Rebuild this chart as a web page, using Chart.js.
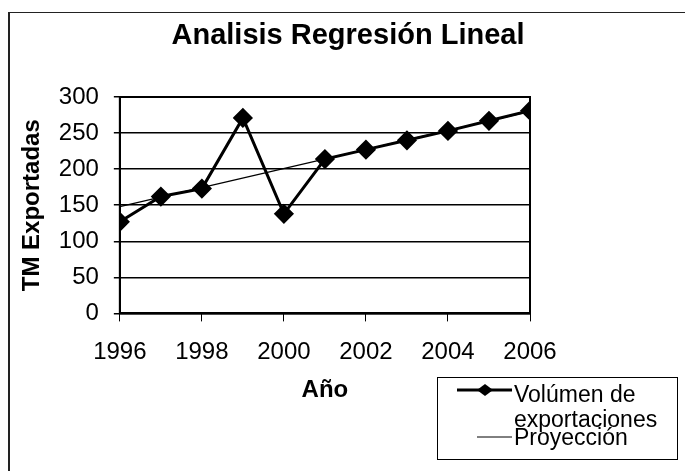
<!doctype html>
<html lang="es">
<head>
    <meta charset="utf-8">
    <title>Analisis Regresión Lineal</title>
    <style>
        * {
            margin: 0;
            padding: 0;
        }

        body {
            background: #fff;
        }
    </style>
</head>
<body>
<canvas id="myChart" width="685" height="471" style="width:685px;height:471px;"></canvas>
<script src="https://cdn.jsdelivr.net/npm/chart.js"></script>
<script>
    // data
    const years = [1996, 1997, 1998, 1999, 2000, 2001, 2002, 2003, 2004, 2005, 2006];
    const volumen = [127, 162, 173, 271, 138, 214, 227, 240, 253, 267, 281];
    const proyeccionYears = [1996, 2006];
    const proyeccion = [148, 280];
    const chartTitle = 'Analisis Regresión Lineal';
    const legendText = [['Volúmen de', 'exportaciones'], ['Proyección']];

    const fontName = '"Liberation Sans", Arial, sans-serif';

    // outer frame of the chart object, title, box round the plot
    const frame = {
        id: 'frame',
        beforeDraw(chart) {
            const {ctx} = chart;
            ctx.save();
            ctx.fillStyle = '#fff';
            ctx.fillRect(0, 0, chart.width, chart.height);
            ctx.strokeStyle = '#222';
            ctx.lineWidth = 1;
            ctx.beginPath();
            ctx.moveTo(9, 12.5);
            ctx.lineTo(chart.width, 12.5);
            ctx.stroke();
            ctx.lineWidth = 2;
            ctx.beginPath();
            ctx.moveTo(9, 12);
            ctx.lineTo(9, chart.height);
            ctx.stroke();

            // title is centred on the whole object, not on the plot
            ctx.fillStyle = '#000';
            ctx.font = 'bold 29px ' + fontName;
            ctx.textAlign = 'center';
            ctx.textBaseline = 'alphabetic';
            ctx.fillText(chartTitle, 348, 44);
            ctx.restore();
        },
        beforeDatasetsDraw(chart) {
            const {ctx, chartArea: {top, bottom, left, right}} = chart;
            ctx.save();
            ctx.strokeStyle = '#000';
            ctx.lineWidth = 2;
            ctx.strokeRect(left, top, right - left, bottom - top);
            ctx.restore();
        }
    };

    // legend drawn by hand, box at the lower right
    const boxLegend = {
        id: 'boxLegend',
        afterDraw(chart) {
            const {ctx} = chart;
            ctx.save();
            ctx.strokeStyle = '#000';
            ctx.lineWidth = 1;
            ctx.strokeRect(437.5, 377.5, 240, 82);
            ctx.font = '23px ' + fontName;
            ctx.fillStyle = '#000';
            ctx.textBaseline = 'alphabetic';

            // item 1
            let y = 390;
            ctx.lineWidth = 3;
            ctx.beginPath();
            ctx.moveTo(457, y);
            ctx.lineTo(512, y);
            ctx.stroke();
            ctx.beginPath();
            ctx.moveTo(485, y - 6);
            ctx.lineTo(493, y);
            ctx.lineTo(485, y + 6);
            ctx.lineTo(477, y);
            ctx.closePath();
            ctx.fill();
            ctx.fillText(legendText[0][0], 514, 402);
            ctx.fillText(legendText[0][1], 514, 427);

            // item 2
            y = 437;
            ctx.lineWidth = 1;
            ctx.beginPath();
            ctx.moveTo(477, y);
            ctx.lineTo(512, y);
            ctx.stroke();
            ctx.fillText(legendText[1][0], 514, 445);
            ctx.restore();
        }
    };

    const data = {
        datasets: [{
            label: legendText[0].join(' '),
            data: years.map((yr, i) => ({x: yr, y: volumen[i]})),
            borderColor: '#000',
            backgroundColor: '#000',
            borderWidth: 3,
            pointStyle: 'rectRot',
            pointRadius: 8,
            pointHoverRadius: 8,
            tension: 0,
            order: 0
        }, {
            label: legendText[1][0],
            data: proyeccionYears.map((yr, i) => ({x: yr, y: proyeccion[i]})),
            borderColor: '#000',
            borderWidth: 1.3,
            pointRadius: 0,
            tension: 0,
            order: 1
        }]
    };

    const config = {
        type: 'line',
        data,
        options: {
            responsive: false,
            animation: false,
            devicePixelRatio: 1,
            layout: {
                padding: {left: 14, right: 155, top: 97, bottom: 62}
            },
            plugins: {
                legend: {display: false},
                tooltip: {enabled: false},
                title: {display: false}
            },
            scales: {
                x: {
                    type: 'linear',
                    min: 1996,
                    max: 2006,
                    ticks: {
                        stepSize: 2,
                        color: '#000',
                        padding: 17,
                        maxRotation: 0,
                        font: {family: fontName, size: 24},
                        callback: v => String(v)
                    },
                    grid: {
                        drawOnChartArea: false,
                        tickLength: 8,
                        color: '#000'
                    },
                    border: {color: '#000', width: 2},
                    title: {
                        display: true,
                        text: 'Año',
                        color: '#000',
                        font: {family: fontName, size: 24, weight: 'bold'},
                        padding: {top: -8, bottom: 4}
                    }
                },
                y: {
                    min: 0,
                    max: 300,
                    ticks: {
                        stepSize: 50,
                        color: '#000',
                        padding: 15,
                        font: {family: fontName, size: 24}
                    },
                    grid: {
                        color: '#000',
                        lineWidth: 1.5,
                        tickLength: 6
                    },
                    border: {color: '#000', width: 2},
                    title: {
                        display: true,
                        text: 'TM Exportadas',
                        color: '#000',
                        font: {family: fontName, size: 24, weight: 'bold'},
                        padding: {top: 4, bottom: -3}
                    }
                }
            }
        },
        plugins: [frame, boxLegend]
    };

    const myChart = new Chart(
        document.getElementById('myChart'),
        config
    );
</script>
</body>
</html>
